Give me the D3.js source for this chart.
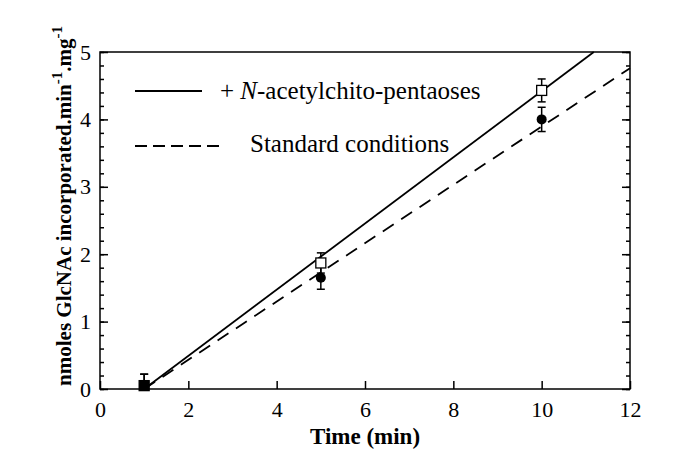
<!DOCTYPE html>
<html>
<head>
<meta charset="utf-8">
<script src="https://cdn.jsdelivr.net/npm/d3@7"></script>
<style>
  body { margin: 0; background: #fff; }
  text { font-family: "Liberation Serif", "Times New Roman", serif; fill: #000; }
</style>
</head>
<body>
<div id="chart"></div>
<script>
// data
var times = [1, 5, 10];
var pentaoseMeans = [0.05, 1.87, 4.43];
var pentaoseErrors = [0.17, 0.15, 0.17];
var standardMeans = [0.05, 1.65, 4.0];
var standardErrors = [0.17, 0.17, 0.18];
// fitted lines, start and end points
var pentaoseFit = [[1, 0], [11.18, 5]];
var standardFit = [[1, 0], [12, 4.76]];

var xTicks = [0, 2, 4, 6, 8, 10, 12];
var yTicks = [0, 1, 2, 3, 4, 5];
var yMinorTicks = d3.range(0, 5.01, 0.2);

var width = 685, height = 471;
var margin = { top: 52, right: 55, bottom: 82, left: 100 };

var svg = d3
  .select("#chart")
  .append("svg")
  .attr("width", width)
  .attr("height", height)
  .attr("font-family", "Liberation Serif");

var x = d3.scaleLinear([0, 12], [margin.left, width - margin.right]);
var y = d3.scaleLinear([0, 5], [height - margin.bottom, margin.top]);

// frame
svg
  .append("rect")
  .attr("x", x(0))
  .attr("y", y(5))
  .attr("width", x(12) - x(0))
  .attr("height", y(0) - y(5))
  .style("fill", "none")
  .style("stroke", "#000")
  .style("stroke-width", 1.5);

// tick labels (no tick marks here)
var xLabels = d3.axisBottom(x).tickValues(xTicks).tickSize(0).tickPadding(12).tickFormat(d3.format("d"));
var yLabels = d3.axisLeft(y).tickValues(yTicks).tickSize(0).tickPadding(9).tickFormat(d3.format("d"));
// tick marks, pointing inward
var xMarks = d3.axisTop(x).tickValues(xTicks).tickSize(8).tickFormat("");
var yMarksL = d3.axisRight(y).tickValues(yTicks).tickSize(8).tickFormat("");
var yMarksR = d3.axisLeft(y).tickValues(yTicks).tickSize(8).tickFormat("");
var yMinorL = d3.axisRight(y).tickValues(yMinorTicks).tickSize(4).tickFormat("");
var yMinorR = d3.axisLeft(y).tickValues(yMinorTicks).tickSize(4).tickFormat("");

function styleAxis(g) {
  g.select(".domain").remove();
  g.selectAll(".tick line").style("stroke", "#000").style("stroke-width", 1.5);
  g.selectAll(".tick text").style("font-size", "22px").style("font-family", "Liberation Serif");
}

svg.append("g").attr("transform", `translate(0, ${y(0)})`).call(xLabels).call(styleAxis);
svg.append("g").attr("transform", `translate(${x(0)}, 0)`).call(yLabels).call(styleAxis);
svg.append("g").attr("transform", `translate(0, ${y(0)})`).call(xMarks).call(styleAxis);
svg.append("g").attr("transform", `translate(${x(0)}, 0)`).call(yMarksL).call(styleAxis);
svg.append("g").attr("transform", `translate(${x(12)}, 0)`).call(yMarksR).call(styleAxis);
svg.append("g").attr("transform", `translate(${x(0)}, 0)`).call(yMinorL).call(styleAxis);
svg.append("g").attr("transform", `translate(${x(12)}, 0)`).call(yMinorR).call(styleAxis);

// fit lines
var line = d3
  .line()
  .x((d) => x(d[0]))
  .y((d) => y(d[1]));

svg
  .append("path")
  .datum(pentaoseFit)
  .attr("d", line)
  .style("fill", "none")
  .style("stroke", "#000")
  .style("stroke-width", 1.8);

svg
  .append("path")
  .datum(standardFit)
  .attr("d", line)
  .style("fill", "none")
  .style("stroke", "#000")
  .style("stroke-width", 1.8)
  .style("stroke-dasharray", "13,9");

// error bars
function errorBars(means, errs) {
  var g = svg.append("g").style("stroke", "#000").style("stroke-width", 1.5);
  times.forEach(function (t, i) {
    var top = y(means[i] + errs[i]);
    var bot = y(Math.max(0, means[i] - errs[i]));
    g.append("line").attr("x1", x(t)).attr("x2", x(t)).attr("y1", top).attr("y2", bot);
    g.append("line").attr("x1", x(t) - 4).attr("x2", x(t) + 4).attr("y1", top).attr("y2", top);
    g.append("line").attr("x1", x(t) - 4).attr("x2", x(t) + 4).attr("y1", bot).attr("y2", bot);
  });
}
errorBars(standardMeans, standardErrors);
errorBars(pentaoseMeans, pentaoseErrors);

// standard conditions: filled circles
svg
  .append("g")
  .selectAll("circle")
  .data(times)
  .join("circle")
  .attr("cx", (d) => x(d))
  .attr("cy", (d, i) => y(standardMeans[i]))
  .attr("r", 5)
  .style("fill", "#000");

// pentaoses: open squares (the first one sits on the circle)
svg
  .append("g")
  .selectAll("rect")
  .data(times)
  .join("rect")
  .attr("x", (d) => x(d) - 5)
  .attr("y", (d, i) => y(pentaoseMeans[i]) - 5)
  .attr("width", 10)
  .attr("height", 10)
  .style("fill", (d, i) => (i == 0 ? "#000" : "#fff"))
  .style("stroke", "#000")
  .style("stroke-width", 1.3);

// legend
svg.append("line")
  .attr("x1", 135).attr("x2", 202).attr("y1", 91).attr("y2", 91)
  .style("stroke", "#000").style("stroke-width", 1.8);
svg.append("line")
  .attr("x1", 135).attr("x2", 220).attr("y1", 146).attr("y2", 146)
  .style("stroke", "#000").style("stroke-width", 1.8)
  .style("stroke-dasharray", "12,6");

var leg1 = svg.append("text").attr("x", 220).attr("y", 99).style("font-size", "25px");
leg1.append("tspan").text("+ ");
leg1.append("tspan").style("font-style", "italic").text("N");
leg1.append("tspan").text("-acetylchito-pentaoses");

svg.append("text").attr("x", 250).attr("y", 152).style("font-size", "25px").text("Standard conditions");

// axis titles
svg
  .append("text")
  .attr("x", (x(0) + x(12)) / 2)
  .attr("y", 444)
  .attr("text-anchor", "middle")
  .style("font-size", "23px")
  .style("font-weight", "bold")
  .text("Time (min)");

var yl = svg
  .append("text")
  .attr("transform", `translate(71, 206) rotate(-90)`)
  .attr("text-anchor", "middle")
  .style("font-size", "21px")
  .style("font-weight", "bold");
yl.append("tspan").text("nmoles GlcNAc incorporated.min");
yl.append("tspan").attr("dy", -9).style("font-size", "15px").text("-1");
yl.append("tspan").attr("dy", 9).text(".mg");
yl.append("tspan").attr("dy", -9).style("font-size", "15px").text("-1");
</script>
</body>
</html>
